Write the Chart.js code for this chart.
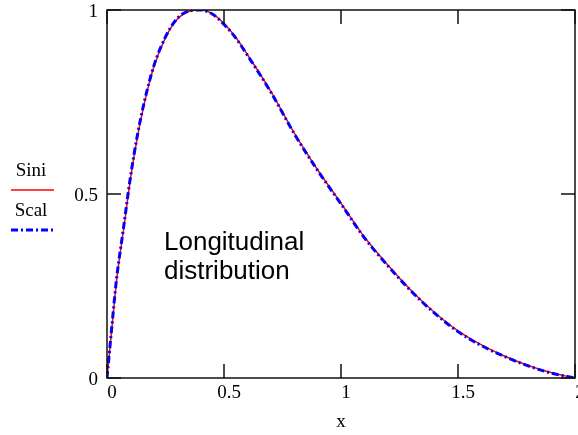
<!DOCTYPE html>
<html>
<head>
<meta charset="utf-8">
<script src="https://cdn.jsdelivr.net/npm/chart.js@4.4.1/dist/chart.umd.min.js"></script>
<style>
  html, body { margin: 0; padding: 0; background: #fff; }
  #wrap { width: 578px; height: 435px; position: relative; }
</style>
</head>
<body>
<div id="wrap"><canvas id="plot"></canvas></div>
<script>
// x positions
const xValues = [0, 0.02, 0.04, 0.07, 0.1, 0.13, 0.16, 0.2, 0.25, 0.3, 0.35, 0.4, 0.45, 0.5, 0.55,
  0.6, 0.7, 0.8, 0.9, 1.0, 1.1, 1.2, 1.3, 1.4, 1.5, 1.6, 1.7, 1.8, 1.9, 2.0];
// Sini (red, solid)
const siniValues = [0, 0.13, 0.26, 0.40, 0.54, 0.655, 0.748, 0.845, 0.925, 0.975, 0.996, 1.0, 0.99, 0.963, 0.926,
  0.879, 0.779, 0.666, 0.566, 0.475, 0.383, 0.307, 0.238, 0.178, 0.128, 0.09, 0.059, 0.034, 0.014, 0];
// Scal (blue, dash-dot) - sits on top of Sini
const scalValues = [0, 0.135, 0.265, 0.405, 0.545, 0.66, 0.752, 0.848, 0.927, 0.977, 0.997, 1.0, 0.989, 0.961, 0.924,
  0.877, 0.777, 0.664, 0.564, 0.473, 0.381, 0.305, 0.236, 0.176, 0.126, 0.088, 0.058, 0.033, 0.013, 0];
const xTicks = [0, 0.5, 1, 1.5, 2];
const yTicks = [0, 0.5, 1];
const seriesNames = ["Sini", "Scal"];
const noteLines = ["Longitudinal", "distribution"];

const serif = "'Liberation Serif', 'DejaVu Serif', serif";
const sans = "'Liberation Sans', Arial, sans-serif";

const toPoints = (ys) => xValues.map((x, i) => ({ x: x, y: ys[i] }));

// frame, inward ticks, left legend and the note
const decor = {
  id: "decor",
  afterDatasetsDraw(chart) {
    const ctx = chart.ctx;
    const a = chart.chartArea;
    const xs = chart.scales.x, ys = chart.scales.y;
    const tick = 14;
    ctx.save();
    ctx.strokeStyle = "#111";
    ctx.lineWidth = 1.5;
    ctx.strokeRect(a.left, a.top, a.right - a.left, a.bottom - a.top);
    ctx.beginPath();
    xTicks.forEach(v => {
      const px = xs.getPixelForValue(v);
      ctx.moveTo(px, a.bottom); ctx.lineTo(px, a.bottom - tick);
      ctx.moveTo(px, a.top); ctx.lineTo(px, a.top + tick);
    });
    yTicks.forEach(v => {
      const py = ys.getPixelForValue(v);
      ctx.moveTo(a.left, py); ctx.lineTo(a.left + tick, py);
      ctx.moveTo(a.right, py); ctx.lineTo(a.right - tick, py);
    });
    ctx.stroke();

    // legend on the left, text above its line sample
    const ds = chart.data.datasets;
    const rows = [{ text: 176, line: 190 }, { text: 216, line: 230 }];
    ctx.font = "19px " + serif;
    ctx.textAlign = "center";
    ctx.textBaseline = "alphabetic";
    ds.forEach((d, i) => {
      ctx.fillStyle = "#000";
      ctx.fillText(d.label, 31, rows[i].text);
      ctx.beginPath();
      ctx.strokeStyle = d.borderColor;
      ctx.lineWidth = d.borderWidth;
      ctx.setLineDash(d.borderDash || []);
      ctx.moveTo(11, rows[i].line); ctx.lineTo(54, rows[i].line);
      ctx.stroke();
      ctx.setLineDash([]);
    });

    // note inside the plot
    ctx.fillStyle = "#000";
    ctx.font = "26px " + sans;
    ctx.textAlign = "left";
    ctx.fillText(noteLines[0], 164, 250);
    ctx.fillText(noteLines[1], 164, 279);
    ctx.restore();
  }
};

new Chart(document.getElementById("plot"), {
  type: "line",
  data: {
    datasets: [
      {
        label: seriesNames[0],
        data: toPoints(siniValues),
        borderColor: "#ff0000",
        borderWidth: 1.5,
        pointRadius: 0,
        cubicInterpolationMode: "monotone",
        fill: false,
        order: 2
      },
      {
        label: seriesNames[1],
        data: toPoints(scalValues),
        borderColor: "#0000ff",
        borderWidth: 3,
        borderDash: [7, 3, 2, 3],
        pointRadius: 0,
        cubicInterpolationMode: "monotone",
        fill: false,
        order: 1
      }
    ]
  },
  options: {
    responsive: true,
    maintainAspectRatio: false,
    animation: false,
    layout: { padding: { left: 0, right: 3, top: 10, bottom: 0 } },
    plugins: {
      legend: { display: false },
      tooltip: { enabled: false }
    },
    scales: {
      x: {
        type: "linear",
        min: 0,
        max: 2,
        afterFit: (s) => { s.height = 57; s.paddingLeft = 0; s.paddingRight = 0; },
        afterBuildTicks: (s) => { s.ticks = xTicks.map(v => ({ value: v })); },
        grid: { display: false, drawTicks: false },
        border: { display: false },
        ticks: {
          color: "#000",
          font: { family: serif, size: 19 },
          padding: 4,
          labelOffset: 5,
          maxRotation: 0,
          autoSkip: false,
          callback: (v) => String(v)
        },
        title: {
          display: true,
          text: "x",
          color: "#000",
          font: { family: serif, size: 19 },
          padding: { top: 0, bottom: 2 }
        }
      },
      y: {
        type: "linear",
        min: 0,
        max: 1,
        afterFit: (s) => { s.width = 107; s.paddingTop = 0; s.paddingBottom = 0; },
        afterBuildTicks: (s) => { s.ticks = yTicks.map(v => ({ value: v })); },
        grid: { display: false, drawTicks: false },
        border: { display: false },
        ticks: {
          color: "#000",
          font: { family: serif, size: 19 },
          padding: 9,
          labelOffset: 2,
          autoSkip: false,
          callback: (v) => String(v)
        }
      }
    }
  },
  plugins: [decor]
});
</script>
</body>
</html>
